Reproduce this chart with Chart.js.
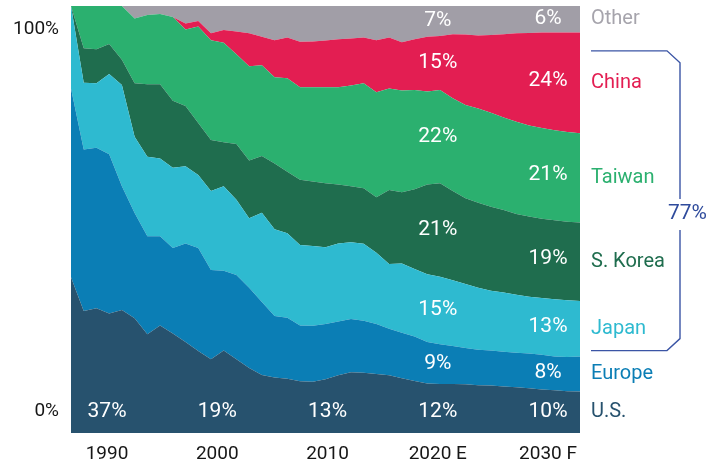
<!DOCTYPE html>
<html>
<head>
<meta charset="utf-8">
<script src="https://cdn.jsdelivr.net/npm/chart.js@4.4.1/dist/chart.umd.min.js"></script>
<style>
  html, body { margin: 0; padding: 0; background: #ffffff; }
  #wrap { width: 707px; height: 467px; position: relative; }
</style>
</head>
<body>
<div id="wrap"><canvas id="c" width="707" height="467"></canvas></div>
<script>
// ---------- DATA (share of global capacity, %) ----------
const years = ['1990','1991','1992','1993','1994','1995','1996','1997','1998','1999',
               '2000','2001','2002','2003','2004','2005','2006','2007','2008','2009',
               '2010','2011','2012','2013','2014','2015','2016','2017','2018','2019',
               '2020','2021','2022','2023','2024','2025','2026','2027','2028','2029','2030'];

const usShare = [36.5,28.6,29.2,28.0,28.8,26.9,23.1,25.2,23.3,21.3,
                 19.2,17.3,19.3,17.3,15.2,13.6,13.0,12.7,12.1,12.0,
                 12.6,13.5,14.2,14.1,13.8,13.5,12.8,12.2,11.6,11.5,
                 11.5,11.4,11.2,11.1,10.9,10.7,10.5,10.2,10.0,9.8,9.7];
const europeShare = [44.2,37.8,37.6,37.3,29.0,24.6,23.0,20.9,20.0,23.1,
                     24.1,20.9,18.7,19.7,18.8,17.1,14.4,14.3,13.1,13.1,
                     12.9,12.6,12.5,12.2,11.7,10.9,10.7,10.4,9.7,9.3,
                     8.9,8.5,8.3,8.2,8.1,8.1,8.1,8.1,7.9,8.0,8.2];
const japanShare = [19.3,15.6,15.1,18.8,23.7,17.9,18.6,18.2,18.8,18.1,
                    17.1,18.5,19.8,17.6,16.3,20.9,20.3,19.8,18.8,18.7,
                    18.0,18.3,18.0,18.0,16.7,15.2,16.2,15.8,15.9,15.8,
                    15.4,15.0,14.5,14.0,13.9,13.6,13.3,13.3,13.4,13.3,13.0];
const koreaShare = [0.0,8.1,8.0,7.0,5.9,12.5,17.0,17.4,15.7,14.1,
                    12.2,11.9,10.3,13.1,13.5,13.3,15.4,14.4,15.3,15.1,
                    15.0,13.8,13.1,13.0,13.0,17.3,16.7,18.7,21.0,21.9,
                    20.9,20.1,19.9,19.7,19.3,18.9,18.8,18.6,18.5,18.4,18.4];
const taiwanShare = [0.0,9.9,10.1,8.9,12.6,15.2,16.2,16.4,19.6,17.9,
                     22.6,23.4,23.3,21.0,22.1,21.2,20.2,21.9,21.7,22.1,
                     22.5,22.8,23.6,24.6,24.6,23.8,23.8,23.2,21.8,21.8,
                     21.7,21.8,22.1,22.0,21.7,21.6,21.3,21.2,21.1,21.0,20.9];
const chinaShare = [0.0,0.0,0.0,0.0,0.0,0.0,0.0,0.0,0.0,1.4,
                    1.3,1.6,3.0,5.3,7.7,6.7,8.7,9.5,10.6,10.7,
                    10.9,11.2,11.0,10.7,12.2,11.9,11.3,11.9,12.8,12.7,
                    15.0,16.5,17.1,18.2,19.5,20.7,21.7,22.4,22.9,23.3,23.6];
const otherShare = [0.0,0.0,0.0,0.0,0.0,2.9,2.1,1.9,2.6,4.1,
                    3.5,6.4,5.6,6.0,6.4,7.2,8.0,7.4,8.4,8.3,
                    8.1,7.8,7.6,7.4,8.0,7.4,8.5,7.8,7.2,7.0,
                    6.6,6.7,6.9,6.8,6.6,6.4,6.3,6.2,6.2,6.2,6.2];

const seriesNames  = ['U.S.','Europe','Japan','S. Korea','Taiwan','China','Other'];
const seriesData   = [usShare, europeShare, japanShare, koreaShare, taiwanShare, chinaShare, otherShare];
const seriesColors = ['#27526e','#0b7eb5','#2ebad0','#1f6d4e','#2bb06f','#e31e52','#a19ea7'];
const legendColors = ['#27526e','#0b7eb5','#2ebad0','#1f6d4e','#2bb06f','#e31e52','#a6a4ac'];

const xTickYears  = [1990, 2000, 2010, 2020, 2030];
const xTickLabels = ['1990', '2000', '2010', '2020 E', '2030 F'];
const yTickValues = [0, 100];
const yTickLabels = ['0%', '100%'];

// printed shares inside the chart
const usLabels     = ['37%', '19%', '13%'];                         // 1990, 2000, 2010
const labels2020   = ['12%', '9%', '15%', '21%', '22%', '15%', '7%'];
const labels2030   = ['10%', '8%', '13%', '19%', '21%', '24%', '6%'];
const bracketText  = '77%';   // Japan + S. Korea + Taiwan + China in 2030

// ---------- DRAWING ----------
const US_ROW_LEVEL = 5;          // y-level (in %) of the bottom row of labels
const BRACKET_TOP = 89.5, BRACKET_BOTTOM = 19.3, BRACKET_LABEL = 51.3;

function bandsAt(f) {
  const n = years.length;
  f = Math.max(0, Math.min(n - 1, f));
  const i0 = Math.floor(f), i1 = Math.min(n - 1, i0 + 1), t = f - i0;
  let base = 0;
  return seriesData.map(d => {
    const v = d[i0] + (d[i1] - d[i0]) * t;
    const b = { lo: base, hi: base + v };
    base += v;
    return b;
  });
}

const annotPlugin = {
  id: 'annot',
  afterDraw(chart) {
    const { ctx, chartArea: a, scales } = chart;
    const ys = scales.y, xl = scales.xl;
    const n = years.length;
    const fAt = px => (px - a.left) / (a.right - a.left) * (n - 1);

    ctx.save();
    // white share labels
    ctx.fillStyle = '#ffffff';
    ctx.font = '400 21px Roboto, "DejaVu Sans", sans-serif';
    ctx.textAlign = 'center';
    ctx.textBaseline = 'middle';
    usLabels.forEach((t, k) => {
      const x = xl.getPixelForValue(xTickYears[k]);
      ctx.fillText(t, x, ys.getPixelForValue(US_ROW_LEVEL));
    });
    [[3, labels2020], [4, labels2030]].forEach(([k, arr]) => {
      const x = xl.getPixelForValue(xTickYears[k]);
      const bands = bandsAt(fAt(x));
      arr.forEach((t, s) => {
        const v = s === 0 ? US_ROW_LEVEL : (bands[s].lo + bands[s].hi) / 2;
        ctx.fillText(t, x, ys.getPixelForValue(v));
      });
    });

    // right-hand legend at band centres of the last year
    const last = bandsAt(n - 1);
    ctx.font = '400 20px Roboto, "DejaVu Sans", sans-serif';
    ctx.textAlign = 'left';
    seriesNames.forEach((name, s) => {
      ctx.fillStyle = legendColors[s];
      ctx.fillText(name, a.right + 11, ys.getPixelForValue((last[s].lo + last[s].hi) / 2));
    });

    // bracket
    const bt = ys.getPixelForValue(BRACKET_TOP), bb = ys.getPixelForValue(BRACKET_BOTTOM);
    const ly = ys.getPixelForValue(BRACKET_LABEL);
    const x0 = a.right + 11, x1 = a.right + 87, x2 = a.right + 100;
    ctx.strokeStyle = '#3b55a5';
    ctx.lineWidth = 1.4;
    ctx.beginPath();
    ctx.moveTo(x0, bt); ctx.lineTo(x1, bt); ctx.lineTo(x2, bt + 12); ctx.lineTo(x2, ly - 15);
    ctx.moveTo(x2, ly + 16); ctx.lineTo(x2, bb - 12); ctx.lineTo(x1, bb); ctx.lineTo(x0, bb);
    ctx.stroke();
    ctx.fillStyle = '#2f4b9c';
    ctx.font = '400 21px Roboto, "DejaVu Sans", sans-serif';
    ctx.fillText(bracketText, a.right + 88, ly);
    ctx.restore();
  }
};

const ctx = document.getElementById('c').getContext('2d');
new Chart(ctx, {
  type: 'line',
  data: {
    labels: years,
    datasets: seriesNames.map((name, i) => ({
      label: name,
      data: seriesData[i],
      backgroundColor: seriesColors[i],
      borderColor: seriesColors[i],
      borderWidth: 0,
      pointRadius: 0,
      tension: 0,
      fill: i === 0 ? 'origin' : '-1'
    }))
  },
  options: {
    responsive: false,
    animation: false,
    devicePixelRatio: 1,
    layout: { padding: { top: 6, right: 127, left: 0, bottom: 0 } },
    plugins: { legend: { display: false }, tooltip: { enabled: false } },
    scales: {
      x: { type: 'category', display: false },
      y: { stacked: true, min: 0, max: 100, display: false },
      xl: {
        type: 'linear', position: 'bottom', min: 1986.73, max: 2032.9,
        grid: { display: false, drawTicks: false }, border: { display: false },
        afterBuildTicks: s => { s.ticks = xTickYears.map(v => ({ value: v })); },
        afterFit: s => { s.height = 34; s.paddingLeft = 0; s.paddingRight = 0; },
        ticks: { padding: 10, color: '#161616', maxRotation: 0, autoSkip: false,
                 font: { family: 'Roboto', size: 19 },
                 callback: (v, i) => xTickLabels[i] }
      },
      yl: {
        type: 'linear', position: 'left', min: -5.57, max: 106,
        grid: { display: false, drawTicks: false }, border: { display: false },
        afterBuildTicks: s => { s.ticks = yTickValues.map(v => ({ value: v })); },
        afterFit: s => { s.width = 71; s.paddingTop = 0; s.paddingBottom = 0; },
        ticks: { padding: 12, color: '#161616', autoSkip: false,
                 font: { family: 'Roboto', size: 19 },
                 callback: (v, i) => yTickLabels[i] }
      }
    }
  },
  plugins: [annotPlugin]
});
</script>
</body>
</html>
